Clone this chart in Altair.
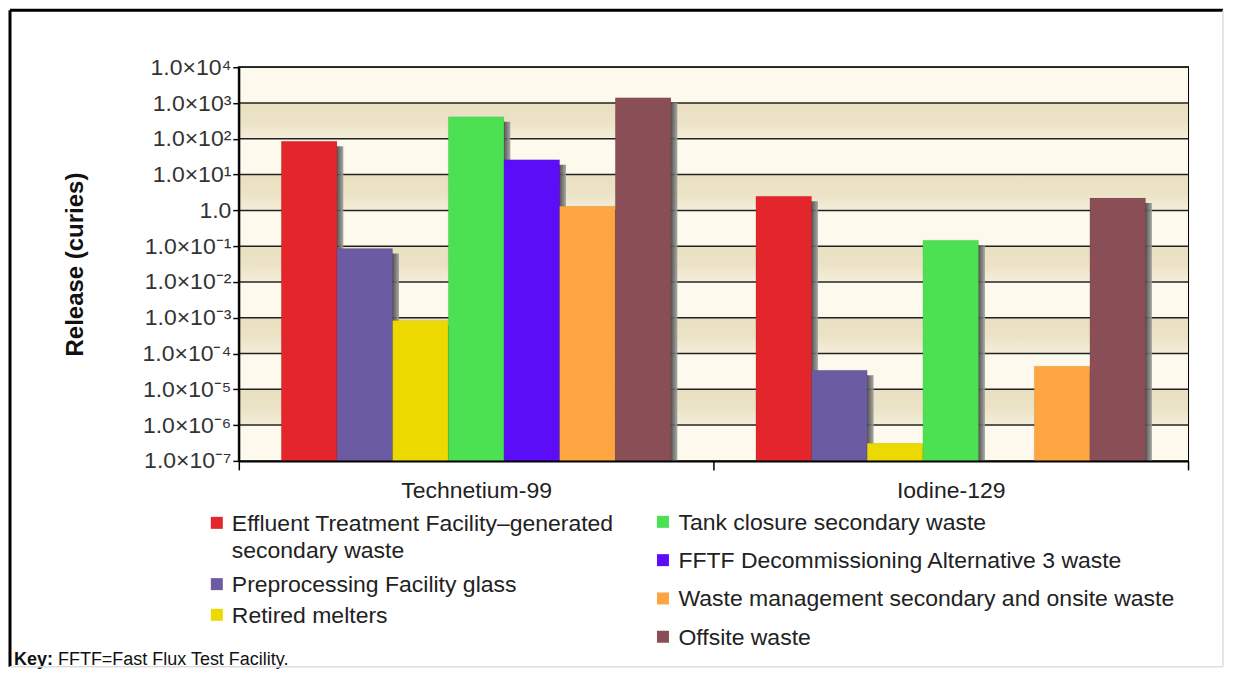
import json
import altair as alt
import pandas as pd

# ---------------- data ----------------
GROUPS = ["Technetium-99", "Iodine-129"]
SERIES = [
    "Effluent Treatment Facility–generated secondary waste",
    "Preprocessing Facility glass",
    "Retired melters",
    "Tank closure secondary waste",
    "FFTF Decommissioning Alternative 3 waste",
    "Waste management secondary and onsite waste",
    "Offsite waste",
]
LEGEND_TEXT = [
    "Effluent Treatment Facility–generated\nsecondary waste",
    "Preprocessing Facility glass",
    "Retired melters",
    "Tank closure secondary waste",
    "FFTF Decommissioning Alternative 3 waste",
    "Waste management secondary and onsite waste",
    "Offsite waste",
]
COLORS = ["#E3262B", "#6A5BA3", "#EBD900", "#4CE152", "#5C0DF7", "#FDA541", "#8A4E56"]
TC99 = [86, 0.086, 8.4e-4, 410, 26, 1.3, 1400]
I129 = [2.5, 3.4e-5, 3.1e-7, 0.147, None, 4.4e-5, 2.2]
TICKS = [1e-7, 1e-6, 1e-5, 1e-4, 1e-3, 1e-2, 1e-1, 1.0, 1e1, 1e2, 1e3, 1e4]
TICK_LABELS = ["1.0×10⁻⁷", "1.0×10⁻⁶", "1.0×10⁻⁵", "1.0×10⁻⁴", "1.0×10⁻³", "1.0×10⁻²",
               "1.0×10⁻¹", "1.0", "1.0×10¹", "1.0×10²", "1.0×10³", "1.0×10⁴"]
Y_TITLE = "Release (curies)"
KEY_LABEL = "Key:"
KEY_TEXT = "FFTF=Fast Flux Test Facility."

FONT = "Arial, Liberation Sans, sans-serif"
W, H = 950, 394

rows = []
for g, vals in zip(GROUPS, [TC99, I129]):
    for s, v in zip(SERIES, vals):
        if v is not None:
            rows.append({"group": g, "series": s, "value": v})
bar_df = pd.DataFrame(rows)

band_df = pd.DataFrame({"lo": TICKS[:-1], "hi": TICKS[1:], "i": list(range(len(TICKS) - 1))})
light_df = band_df[band_df["i"] % 2 == 0]
tan_df = band_df[band_df["i"] % 2 == 1]
grid_df = pd.DataFrame({"tick": TICKS})

# legend: first three entries in column 1, rest in column 2
leg_rows = []
for k, (s, t) in enumerate(zip(SERIES, LEGEND_TEXT)):
    leg_rows.append({"series": s, "text": t, "col": 0 if k < 3 else 1})
leg_df = pd.DataFrame(leg_rows)
slots = []
counters = {0: 0, 1: 0}
for _, r in leg_df.iterrows():
    slots.append(counters[r["col"]])
    counters[r["col"]] += r["text"].count("\n") + 1
leg_df["slot"] = slots
leg1_df = leg_df[leg_df["col"] == 0]
leg2_df = leg_df[leg_df["col"] == 1]

# ---------------- scales / axes ----------------
yscale = alt.Scale(type="log", domain=[TICKS[0], TICKS[-1]], nice=False)
label_expr = json.dumps(TICK_LABELS, ensure_ascii=False) + "[round(log(datum.value)/LN10)+7]"
yaxis = alt.Axis(values=TICKS, labelExpr=label_expr, title=Y_TITLE, grid=False,
                 domainColor="black", domainWidth=2, tickColor="black", tickSize=6, tickWidth=1.5,
                 labelFontSize=23, labelColor="#333", labelFont=FONT, labelPadding=2,
                 titleFont=FONT, titleFontSize=24, titleFontWeight="bold", titleColor="#111",
                 titlePadding=55, zindex=1)
xaxis = alt.Axis(title=None, tickBand="extent", labelFontSize=23, labelColor="#222", labelFont=FONT,
                 labelAngle=0, domainColor="black", domainWidth=2, tickColor="black", tickSize=9,
                 tickWidth=1.5, labelPadding=10, zindex=1)
xenc = alt.X("group:N", sort=GROUPS, scale=alt.Scale(paddingInner=0, paddingOuter=0), axis=xaxis)
color_enc = alt.Color("series:N", scale=alt.Scale(domain=SERIES, range=COLORS), legend=None)

tan_grad = alt.LinearGradient(gradient="linear", x1=0, x2=0, y1=0, y2=1,
                              stops=[alt.GradientStop(color="#E9DFC0", offset=0),
                                     alt.GradientStop(color="#ECE3C7", offset=0.55),
                                     alt.GradientStop(color="#F4EEDA", offset=1)])
shadow_grad = alt.LinearGradient(gradient="linear", x1=0, x2=1, y1=0, y2=0,
                                 stops=[alt.GradientStop(color="#2a2a2a", offset=0),
                                        alt.GradientStop(color="#303030", offset=0.86),
                                        alt.GradientStop(color="#a0a0a0", offset=1)])

light = alt.Chart(light_df).mark_rect(fill="#FDF9EC").encode(
    x=alt.value(0), x2=alt.value(W),
    y=alt.Y("lo:Q", scale=yscale, axis=yaxis), y2="hi:Q")
tan = alt.Chart(tan_df).mark_rect(fill=tan_grad).encode(
    x=alt.value(0), x2=alt.value(W),
    y=alt.Y("lo:Q", scale=yscale, axis=yaxis), y2="hi:Q")
grid = alt.Chart(grid_df).mark_rule(color="#222", strokeWidth=1.5).encode(
    y=alt.Y("tick:Q", scale=yscale, axis=yaxis))
shadow = alt.Chart(bar_df).mark_bar(fill=shadow_grad, yOffset=5, clip=True, opacity=0.9).encode(
    x=xenc,
    xOffset=alt.XOffset("series:N", sort=SERIES,
                        scale=alt.Scale(paddingInner=0, paddingOuter=0.763, align=0.575)),
    y=alt.Y("value:Q", scale=yscale, axis=yaxis), y2=alt.datum(TICKS[0]))
bars = alt.Chart(bar_df).mark_bar(stroke="#00000022", strokeWidth=0.5).encode(
    x=xenc,
    xOffset=alt.XOffset("series:N", sort=SERIES,
                        scale=alt.Scale(paddingInner=0, paddingOuter=0.763)),
    y=alt.Y("value:Q", scale=yscale, axis=yaxis), y2=alt.datum(TICKS[0]),
    color=color_enc)

inner = alt.layer(light, tan, grid, shadow, bars).resolve_scale(xOffset="independent")

# legend columns
def legend_col(df, rng, sw_x, tx_x):
    ye = alt.Y("slot:Q", scale=alt.Scale(domain=[0, 3], range=rng, nice=False, zero=False), axis=None)
    sw = alt.Chart(df).mark_square(size=144, yOffset=-8, opacity=1).encode(
        x=alt.value(sw_x), y=ye, color=color_enc)
    tx = alt.Chart(df).mark_text(align="left", baseline="alphabetic", fontSize=23, font=FONT,
                                 lineBreak="\n", lineHeight=27, color="#222").encode(
        x=alt.value(tx_x), y=ye, text="text:N")
    return alt.layer(sw, tx)

leg1 = legend_col(leg1_df, [464, 556], -22, -7)
leg2 = legend_col(leg2_df, [463, 578], 424.5, 440)

one = pd.DataFrame({"k": [KEY_LABEL], "t": [KEY_TEXT]})
key1 = alt.Chart(one).mark_text(align="left", baseline="alphabetic", fontSize=18, font=FONT,
                                fontWeight="bold", color="#111").encode(
    x=alt.value(-225), y=alt.value(598), text="k:N")
key2 = alt.Chart(one).mark_text(align="left", baseline="alphabetic", fontSize=18, font=FONT,
                                color="#111").encode(
    x=alt.value(-181), y=alt.value(598), text="t:N")

frame_top = alt.Chart(one).mark_rule(color="black", strokeWidth=3).encode(
    x=alt.value(-229), x2=alt.value(985), y=alt.value(-57))
frame_left = alt.Chart(one).mark_rule(color="black", strokeWidth=3).encode(
    x=alt.value(-229), y=alt.value(-57), y2=alt.value(600))
frame_right = alt.Chart(one).mark_rule(color="#dddddd", strokeWidth=1.5).encode(
    x=alt.value(985), y=alt.value(-57), y2=alt.value(600))
frame_bottom = alt.Chart(one).mark_rule(color="#dddddd", strokeWidth=1.5).encode(
    x=alt.value(-229), x2=alt.value(985), y=alt.value(600))

chart = alt.layer(inner, leg1, leg2, key1, key2, frame_top, frame_left, frame_right, frame_bottom
                  ).resolve_scale(y="independent").properties(
    width=W, height=H, padding=0, background="white"
).configure_view(stroke="black", strokeWidth=2)

chart.save("out.html", embed_options={"renderer": "svg", "actions": False})
